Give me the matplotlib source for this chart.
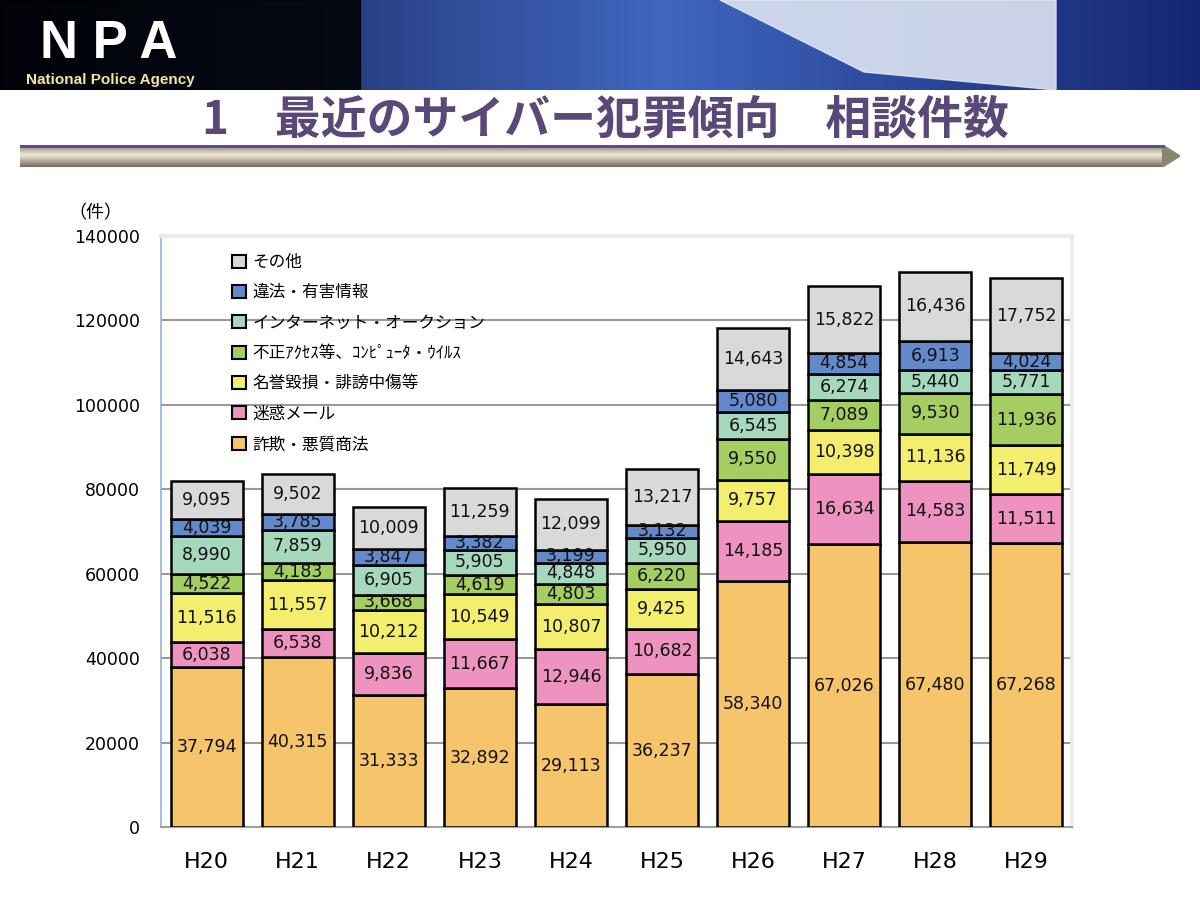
import numpy as np
import matplotlib
matplotlib.use("Agg")
import matplotlib.pyplot as plt
from matplotlib.patches import Patch, Rectangle, Polygon

plt.rcParams['font.family'] = ['DejaVu Sans', 'Noto Sans CJK JP']

years = ["H20", "H21", "H22", "H23", "H24", "H25", "H26", "H27", "H28", "H29"]
fraud = [37794, 40315, 31333, 32892, 29113, 36237, 58340, 67026, 67480, 67268]
spam = [6038, 6538, 9836, 11667, 12946, 10682, 14185, 16634, 14583, 11511]
defamation = [11516, 11557, 10212, 10549, 10807, 9425, 9757, 10398, 11136, 11749]
unauthorized = [4522, 4183, 3668, 4619, 4803, 6220, 9550, 7089, 9530, 11936]
auction = [8990, 7859, 6905, 5905, 4848, 5950, 6545, 6274, 5440, 5771]
illegal_info = [4039, 3785, 3847, 3382, 3199, 3132, 5080, 4854, 6913, 4024]
other = [9095, 9502, 10009, 11259, 12099, 13217, 14643, 15822, 16436, 17752]

series_names = ["詐欺・悪質商法", "迷惑メール", "名誉毀損・誹謗中傷等",
                "不正ｱｸｾｽ等、ｺﾝﾋﾟｭｰﾀ・ｳｲﾙｽ", "インターネット・オークション",
                "違法・有害情報", "その他"]
series = [fraud, spam, defamation, unauthorized, auction, illegal_info, other]
colors = ["#F6C46A", "#EE93BF", "#F3EE6E", "#A4CE62", "#A6D8BE", "#6389CA", "#D9D9D9"]
yticks = [0, 20000, 40000, 60000, 80000, 100000, 120000, 140000]

W, H = 1200, 897
fig = plt.figure(figsize=(W / 100, H / 100), dpi=100)

# ---- header banner ----
hax = fig.add_axes([0, 1 - 90 / H, 1, 90 / H])
grad = np.linspace(0, 1, 256)
img = np.zeros((2, 256, 3))
c0 = np.array([0.05, 0.08, 0.25])
c1 = np.array([0.25, 0.40, 0.75])
c2 = np.array([0.08, 0.15, 0.45])
for i, g in enumerate(grad):
    if g < 0.55:
        img[:, i] = c0 + (c1 - c0) * (g / 0.55)
    else:
        img[:, i] = c1 + (c2 - c1) * ((g - 0.55) / 0.45)
hax.imshow(img, aspect='auto', extent=[0, 1, 0, 1])
hax.add_patch(Rectangle((0, 0), 0.30, 1, color="#000000", alpha=0.85))
hax.add_patch(Polygon([[0.6, 1], [0.88, 1], [0.88, 0.0], [0.72, 0.2]], color="#DDE4F2", alpha=0.9))
hax.text(0.033, 1 - 58 / 90, "N P A", color="white", fontsize=38, fontweight="bold",
         va="baseline", ha="left", family=["Liberation Sans", "DejaVu Sans"])
hax.text(0.022, 1 - 80 / 90, "National Police Agency", color="#F0E6A0", fontsize=11,
         fontweight="bold", va="center", ha="left", family=["Liberation Sans", "DejaVu Sans"])
hax.set_xlim(0, 1); hax.set_ylim(0, 1)
hax.axis("off")

# ---- title ----
fig.text(605 / W, 1 - 120 / H, "1　最近のサイバー犯罪傾向　相談件数", ha="center", va="center",
         fontsize=33, fontweight="bold", color="#5A4878",
         family=["Noto Sans CJK JP", "DejaVu Sans"])

# ---- beveled bar under title ----
bax = fig.add_axes([20 / W, 1 - 167 / H, 1160 / W, 22 / H])
vg = np.linspace(0, 1, 64)
bar_img = np.zeros((64, 2, 3))
for i, g in enumerate(vg):
    t = 1 - abs(g - 0.45) / 0.55
    bar_img[i, :] = np.array([0.45, 0.42, 0.35]) + np.array([0.5, 0.5, 0.5]) * t
bar_img = np.clip(bar_img, 0, 1)
bax.imshow(bar_img, aspect='auto', extent=[0, 0.985, 0, 1])
bax.add_patch(Polygon([[0.985, 0], [0.985, 1], [1.0, 0.5]], color="#8A8570"))
bax.plot([0, 0.985], [0.97, 0.97], color="#5A4A8A", lw=2)
bax.set_xlim(0, 1); bax.set_ylim(0, 1)
bax.axis("off")

# ---- main chart ----
ax = fig.add_axes([161 / W, 1 - 827 / H, (1072 - 161) / W, (827 - 236) / H])
x = np.arange(len(years))
bottom = np.zeros(len(years))
for vals, col in zip(series, colors):
    vals = np.array(vals, dtype=float)
    ax.bar(x, vals, bottom=bottom, width=0.79, color=col, edgecolor="black",
           linewidth=1.8, zorder=3)
    for xi, b, v in zip(x, bottom, vals):
        ax.text(xi, b + v / 2, f"{int(v):,}", ha="center", va="center",
                fontsize=12.5, color="#111111", zorder=4)
    bottom += vals

ax.set_xlim(-0.5, len(years) - 0.5)
ax.set_ylim(0, 140000)
ax.set_yticks(yticks)
ax.set_yticklabels([str(t) for t in yticks], fontsize=12.5)
ax.set_xticks(x)
ax.set_xticklabels(years, fontsize=16)
ax.tick_params(axis='y', length=0, pad=15)
ax.tick_params(axis='x', length=0, pad=18)
ax.yaxis.grid(True, color="#999999", lw=1.5, zorder=0)
ax.set_axisbelow(True)
ax.spines['left'].set_color("#8EB4E3")
ax.spines['left'].set_linewidth(1.2)
ax.spines['bottom'].set_color("#A0A0A0")
ax.spines['bottom'].set_linewidth(1.5)
ax.spines['top'].set_color("#EBEBEB")
ax.spines['top'].set_linewidth(3)
ax.spines['right'].set_color("#EBEBEB")
ax.spines['right'].set_linewidth(3)

handles = [Patch(facecolor=c, edgecolor="black", linewidth=1.5, label=n)
           for c, n in zip(colors, series_names)][::-1]
leg = ax.legend(handles=handles, loc="upper left", bbox_to_anchor=(0.062, 0.995),
                frameon=False, handlelength=0.8, handleheight=0.8,
                handletextpad=0.4, labelspacing=0.8,
                prop={'family': ['Noto Sans CJK JP', 'DejaVu Sans'], 'size': 12})

fig.text(95 / W, 1 - 213 / H, "（件）", ha="center", va="center", fontsize=13,
         family=["Noto Sans CJK JP", "DejaVu Sans"])

fig.savefig("out.png", dpi=100)
